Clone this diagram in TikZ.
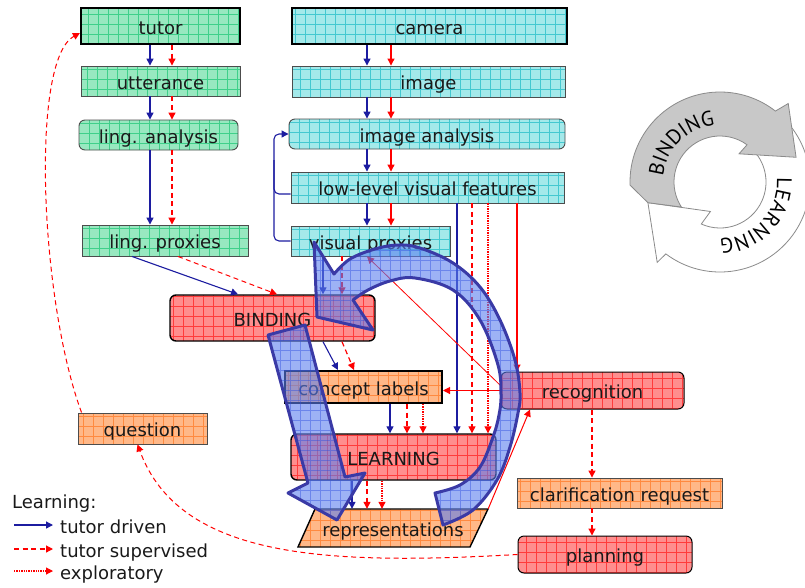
\documentclass[tikz,border=0pt]{standalone}
\usepackage{fontspec}
\setmainfont{DejaVu Sans}
\newfontfamily\cyclefamily{PT Sans}
\usetikzlibrary{arrows.meta,decorations.text,calc}

\definecolor{greenfill}{HTML}{98E8C0}
\definecolor{greengrid}{HTML}{3FD08A}
\definecolor{cyanfill}{HTML}{A4E9EA}
\definecolor{cyangrid}{HTML}{44C8D0}
\definecolor{redfill}{HTML}{FF8E8E}
\definecolor{redgrid}{HTML}{FF3C3C}
\definecolor{orangefill}{HTML}{FFB888}
\definecolor{orangegrid}{HTML}{FF8A40}
\definecolor{tdblue}{HTML}{1C1CA0}
\definecolor{ringfill}{HTML}{5B7FEF}
\definecolor{ringgrid}{HTML}{3050E0}
\definecolor{ringedge}{HTML}{3A3AA6}
\definecolor{cyclegray}{HTML}{C8C8C8}
\definecolor{cycleline}{HTML}{8A8A8A}

\newcommand{\labfont}{\fontsize{18}{21}\selectfont}
\newcommand{\cyclefont}{\cyclefamily\fontsize{21}{21}\selectfont}

% outline of the large circular arrow
\newcommand{\bigringoutline}{(314,242) -- (334,274)
  -- plot[smooth, tension=0.6] coordinates {(334,274) (350,259) (375,249) (398,245) (420,248) (453,263) (480,287) (500,320) (515,360) (520,393) (518,413) (510,447) (497,480) (473,510) (443,525)}
  -- (435,493)
  -- plot[smooth, tension=0.6] coordinates {(435,493) (460,485) (480,467) (493,437) (499,415) (501,395) (498,365) (480,320) (453,290) (415,278) (390,281) (368,290) (353,300)}
  -- (373,330) -- (317,317) -- cycle}
% outline of the straight arrow
\newcommand{\bigstraightoutline}{(268,335) -- (305,325) -- (345,477) -- (365,473) -- (337,520) -- (288,493) -- (308,483) -- cycle}

\begin{document}
\begin{tikzpicture}[x=1pt,y=-1pt,
  lbl/.style={font=\labfont, text=black!90, inner sep=0pt, text height=16pt, text depth=0pt},
  gridfill/.style n args={2}{fill=#1, path picture={\draw[#2, line width=0.45pt] (path picture bounding box.south west) grid[step=10pt] (path picture bounding box.north east);}},
  greenbox/.style={lbl, draw=black!70, line width=0.9pt, gridfill={greenfill}{greengrid}},
  cyanbox/.style={lbl, draw=black!70, line width=0.9pt, gridfill={cyanfill}{cyangrid}},
  redbox/.style={lbl, draw=black, line width=1.4pt, rounded corners=6pt, gridfill={redfill}{redgrid}},
  orangebox/.style={lbl, draw=black!70, line width=0.9pt, gridfill={orangefill}{orangegrid}},
  heavyedge/.style={draw=black, line width=2.2pt},
  roundbox/.style={rounded corners=6pt},
  tip/.style={-{Triangle[length=7pt,width=7pt]}},
  driven/.style={tip, draw=tdblue, line width=1.3pt},
  supervised/.style={tip, draw=red, line width=1.2pt, dash pattern=on 5pt off 3.5pt},
  explore/.style={tip, draw=red, line width=1.1pt, dash pattern=on 1.4pt off 1pt},
  solidred/.style={tip, draw=red, line width=1.1pt},
  thinred/.style={tip, draw=red, line width=0.8pt},
  bigarrow/.style={fill=ringfill, fill opacity=0.6, path picture={\draw[ringgrid, line width=0.5pt, opacity=0.45] (path picture bounding box.south west) grid[step=10pt] (path picture bounding box.north east);}},
]
\useasboundingbox (0,0) rectangle (805,587);

% ---------- language column ----------
\node[greenbox, heavyedge, minimum width=159pt, minimum height=36pt] (tutor) at (160.5,26) {tutor};
\node[greenbox, minimum width=159pt, minimum height=30pt] (utterance) at (160.5,81) {utterance};
\node[greenbox, roundbox, minimum width=159pt, minimum height=30pt] (linganalysis) at (158.5,135) {ling. analysis};
\node[greenbox, minimum width=166pt, minimum height=31pt] (lingproxies) at (165,240.5) {ling. proxies};

% ---------- vision column ----------
\node[cyanbox, heavyedge, minimum width=275pt, minimum height=36pt] (camera) at (429.5,26) {camera};
\node[cyanbox, minimum width=273pt, minimum height=31pt] (image) at (428.5,81.5) {image};
\node[cyanbox, roundbox, minimum width=276pt, minimum height=30pt] (imageanalysis) at (427,134) {image analysis};
\node[cyanbox, minimum width=273pt, minimum height=31pt] (lowlevel) at (427.5,187.5) {low-level visual features};
\node[cyanbox, minimum width=159pt, minimum height=30pt] (visualproxies) at (370.5,241) {visual proxies};

% ---------- processing boxes ----------
\node[redbox, minimum width=205pt, minimum height=46pt] (binding) at (272.5,318) {BINDING};
\node[orangebox, draw=black, line width=2pt, minimum width=157pt, minimum height=32pt] (conceptlabels) at (363.5,387) {concept labels};
\node[redbox, line width=1pt, minimum width=183pt, minimum height=37pt] (recognition) at (592.5,390.5) {recognition};
\node[redbox, minimum width=205pt, minimum height=46pt] (learning) at (393.5,457) {LEARNING};
\path[gridfill={orangefill}{orangegrid}, draw=black, line width=1.4pt] (298,547) -- (470,547) -- (488,509) -- (315,509) -- cycle;
\node[lbl, minimum width=190pt, minimum height=38pt] (repr) at (393,528) {representations};
\node[orangebox, minimum width=205pt, minimum height=30pt] (clarification) at (619.5,493) {clarification request};
\node[redbox, line width=1pt, minimum width=174pt, minimum height=37pt] (planning) at (605,554.5) {planning};
\node[orangebox, minimum width=129pt, minimum height=31pt] (question) at (142.5,428.5) {question};

% ---------- connector columns ----------
\coordinate (gB) at (150,0);  \coordinate (gR) at (172,0);
\coordinate (cB) at (367,0);  \coordinate (cR) at (391,0);
\coordinate (vB) at (323,0);  \coordinate (vR) at (342,0);
\coordinate (kB) at (390,0);  \coordinate (kR) at (407,0);  \coordinate (kD) at (423,0);
\coordinate (fB) at (457,0);  \coordinate (fR) at (472,0);  \coordinate (fD) at (488,0);  \coordinate (fS) at (517,0);
\coordinate (lB) at (352,0);  \coordinate (lR) at (367,0);  \coordinate (lD) at (382,0);
\coordinate (rR) at (592,0);
\coordinate (fb) at (274,160);

% language chain
\draw[driven] (gB |- tutor.south) -- (gB |- utterance.north);
\draw[supervised] (gR |- tutor.south) -- (gR |- utterance.north);
\draw[driven] (gB |- utterance.south) -- (gB |- linganalysis.north);
\draw[supervised] (gR |- utterance.south) -- (gR |- linganalysis.north);
\draw[driven] (gB |- linganalysis.south) -- (gB |- lingproxies.north);
\draw[supervised] (gR |- linganalysis.south) -- (gR |- lingproxies.north);

% vision chain
\draw[driven] (cB |- camera.south) -- (cB |- image.north);
\draw[solidred] (cR |- camera.south) -- (cR |- image.north);
\draw[driven] (cB |- image.south) -- (cB |- imageanalysis.north);
\draw[solidred] (cR |- image.south) -- (cR |- imageanalysis.north);
\draw[driven] (cB |- imageanalysis.south) -- (cB |- lowlevel.north);
\draw[solidred] (cR |- imageanalysis.south) -- (cR |- lowlevel.north);
\draw[driven] (cB |- lowlevel.south) -- (cB |- visualproxies.north);
\draw[solidred] (cR |- lowlevel.south) -- (cR |- visualproxies.north);

% feedback into image analysis
\draw[driven, line width=1.1pt, rounded corners=5pt] (visualproxies.west) -| (fb) |- (imageanalysis.west);
\draw[draw=tdblue, line width=1.1pt, rounded corners=5pt] ([yshift=-6.5pt]lowlevel.west) -| (fb);

% proxies into binding
\draw[driven, line width=1.1pt] ([xshift=-33pt]lingproxies.south) -- ([xshift=-34.5pt]binding.north);
\draw[supervised, line width=1pt] ([xshift=13pt]lingproxies.south) -- ([xshift=4.5pt]binding.north);
\draw[driven] (vB |- visualproxies.south) -- (vB |- binding.north);
\draw[supervised] (vR |- visualproxies.south) -- (vR |- binding.north);

% binding into concept labels
\draw[driven, line width=1.1pt] ([xshift=50.5pt]binding.south) -- ([xshift=-25.5pt]conceptlabels.north);
\draw[supervised] ([xshift=69.5pt]binding.south) -- ([xshift=-9.5pt]conceptlabels.north);

% into learning
\draw[driven] (kB |- conceptlabels.south) -- (kB |- learning.north);
\draw[supervised] (kR |- conceptlabels.south) -- (kR |- learning.north);
\draw[explore] (kD |- conceptlabels.south) -- (kD |- learning.north);
\draw[driven, line width=1.1pt] (fB |- lowlevel.south) -- (fB |- learning.north);
\draw[supervised] (fR |- lowlevel.south) -- (fR |- learning.north);
\draw[explore] (fD |- lowlevel.south) -- (fD |- learning.north);

% recognition
\draw[solidred] (fS |- lowlevel.south) -- (fS |- recognition.north);
\draw[solidred] (recognition.west) -- (recognition.west -| conceptlabels.east);
\draw[thinred] ([yshift=5pt]recognition.west) -- ([xshift=-3.5pt]visualproxies.south);
\draw[thinred, line width=1pt] (repr.north east) -- ([xshift=-62.5pt]recognition.south);

% learning into representations
\draw[driven] (lB |- learning.south) -- (lB |- repr.north);
\draw[supervised] (lR |- learning.south) -- (lR |- repr.north);
\draw[explore] (lD |- learning.south) -- (lD |- repr.north);

% clarification loop
\draw[supervised] (rR |- recognition.south) -- (rR |- clarification.north);
\draw[supervised] (rR |- clarification.south) -- (rR |- planning.north);
\draw[supervised, line width=1pt] (planning.west) .. controls (330,565) and (180,560) .. ([xshift=-5pt]question.south);
\draw[supervised, line width=1pt] ([xshift=4pt]question.north west) .. controls (40,300) and (30,60) .. ([yshift=-7pt]tutor.west);

% ---------- legend ----------
\node[lbl, anchor=west] (lgtitle) at (12,500) {Learning:};
\node[lbl, anchor=west] (lg1) at (60,525) {tutor driven};
\node[lbl, anchor=west] (lg2) at (60,549) {tutor supervised};
\node[lbl, anchor=west] (lg3) at (60,571) {exploratory};
\coordinate (lg1s) at (14,525);
\coordinate (lg2s) at (14,549);
\coordinate (lg3s) at (14,571);
\draw[driven] (lg1s) -- ([xshift=-7pt]lg1.west);
\draw[supervised] (lg2s) -- ([xshift=-7pt]lg2.west);
\draw[explore] (lg3s) -- ([xshift=-7pt]lg3.west);

% ---------- binding / learning cycle ----------
\begin{scope}[shift={(720,182)}]
  \path[fill=white, draw=cycleline, line width=0.8pt]
    (-42:90) arc[start angle=-42, end angle=127, radius=90] -- (128:102) -- (164:75) -- (108:31) -- (114:46)
    arc[start angle=114, end angle=-42, radius=46] -- cycle;
  \path[fill=cyclegray, draw=cycleline, line width=0.8pt]
    (178:90) arc[start angle=178, end angle=308, radius=90] -- (311:104) -- (342:80) -- (304:34) -- (306:46)
    arc[start angle=306, end angle=147, radius=46] -- (164:75) -- cycle;
  \path[decorate, decoration={text along path, text={|\cyclefont|BINDING}, text align=center}]
    (150:57) arc[start angle=150, end angle=300, radius=57];
  \path[decorate, decoration={text along path, text={|\cyclefont|LEARNING}, text align=center}]
    (-32:57) arc[start angle=-32, end angle=118, radius=57];
\end{scope}

% ---------- large overlay arrows ----------
\path[bigarrow] \bigringoutline;
\draw[ringedge, line width=3pt, line join=round] \bigringoutline;
\path[bigarrow] \bigstraightoutline;
\draw[ringedge, line width=3pt, line join=round] \bigstraightoutline;

\end{tikzpicture}
\end{document}
